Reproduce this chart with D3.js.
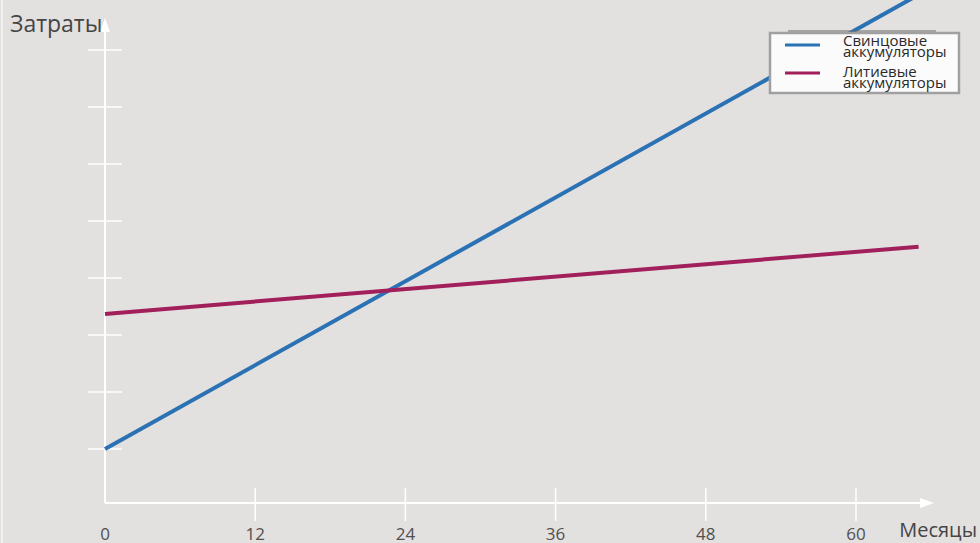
<!DOCTYPE html>
<html><head><meta charset="utf-8">
<script src="https://cdn.jsdelivr.net/npm/d3@7"></script>
<style>
html,body{margin:0;padding:0;background:#e3e0e0;}
svg{display:block;font-family:"Open Sans","Noto Sans",sans-serif;}
</style></head>
<body>
<svg id="c" width="980" height="543"></svg>
<script>
const xTicks = [0, 12, 24, 36, 48, 60];
const yTicks = [1, 2, 3, 4, 5, 6, 7, 8];
const months = [0, 65];
const leadValues = [1.0, 8.97];
const lithiumValues = [3.37, 4.55];
const seriesNames = [["Свинцовые", "аккумуляторы"], ["Литиевые", "аккумуляторы"]];
const seriesColors = ["#2b72b4", "#a11f5a"];
const xTitle = "Месяцы";
const yTitle = "Затраты";

const svg = d3.select("#c");
svg.append("rect").attr("width",980).attr("height",543).attr("fill","#e3e0e0");
svg.append("rect").attr("x",1).attr("y",0).attr("width",2).attr("height",543).attr("fill","#f2f0f0");

const x = d3.scaleLinear().domain([0,60]).range([105,856]);
const y = d3.scaleLinear().domain([0,8]).range([506,50]);

const axisCol = "#ffffff";
svg.append("line").attr("x1",105).attr("x2",105).attr("y1",503).attr("y2",28)
  .attr("stroke",axisCol).attr("stroke-width",2);
svg.append("path").attr("d","M105,18 L100,32 L110,32 Z").attr("fill",axisCol);
svg.append("line").attr("x1",105).attr("x2",922).attr("y1",503).attr("y2",503)
  .attr("stroke",axisCol).attr("stroke-width",2);
svg.append("path").attr("d","M934,503 L920,498 L920,508 Z").attr("fill",axisCol);

svg.append("g").selectAll("line").data(yTicks).join("line")
  .attr("x1",88).attr("x2",122).attr("y1",d=>y(d)).attr("y2",d=>y(d))
  .attr("stroke",axisCol).attr("stroke-width",1.5);
svg.append("g").selectAll("line").data(xTicks.filter(d=>d>0)).join("line")
  .attr("x1",d=>x(d)).attr("x2",d=>x(d)).attr("y1",488).attr("y2",521)
  .attr("stroke",axisCol).attr("stroke-width",1.5);
svg.append("g").selectAll("text").data(xTicks).join("text")
  .attr("x",d=>x(d)).attr("y",540).attr("text-anchor","middle")
  .attr("font-size",17).attr("fill","#505050").text(d=>d);

svg.append("text").attr("x",10).attr("y",32).attr("font-size",23).attr("fill","#454545").text(yTitle);
svg.append("text").attr("x",977).attr("y",537).attr("text-anchor","end").attr("font-size",20).attr("fill","#454545").text(xTitle);

const line = d3.line().x(d=>x(d[0])).y(d=>y(d[1]));
[leadValues, lithiumValues].forEach((vals,i)=>{
  svg.append("path").datum(months.map((m,j)=>[m,vals[j]]))
    .attr("d",line).attr("fill","none").attr("stroke",seriesColors[i]).attr("stroke-width",4);
});

const lg = svg.append("g");
lg.append("line").attr("x1",788).attr("x2",936).attr("y1",31).attr("y2",31).attr("stroke","#666").attr("stroke-width",1);
lg.append("rect").attr("x",770).attr("y",33).attr("width",189).attr("height",60)
  .attr("fill","#fbfbfb").attr("stroke","#a0a0a0").attr("stroke-width",2.5);
seriesNames.forEach((nm,i)=>{
  const cy = 45 + i*28;
  lg.append("line").attr("x1",785).attr("x2",820).attr("y1",cy).attr("y2",cy)
    .attr("stroke",seriesColors[i]).attr("stroke-width",3);
  nm.forEach((t,k)=>{
    lg.append("text").attr("x",843).attr("y",46 + i*31 + k*10.5).attr("font-size",15)
      .attr("fill","#2a2a2a").text(t);
  });
});
</script>
</body></html>
